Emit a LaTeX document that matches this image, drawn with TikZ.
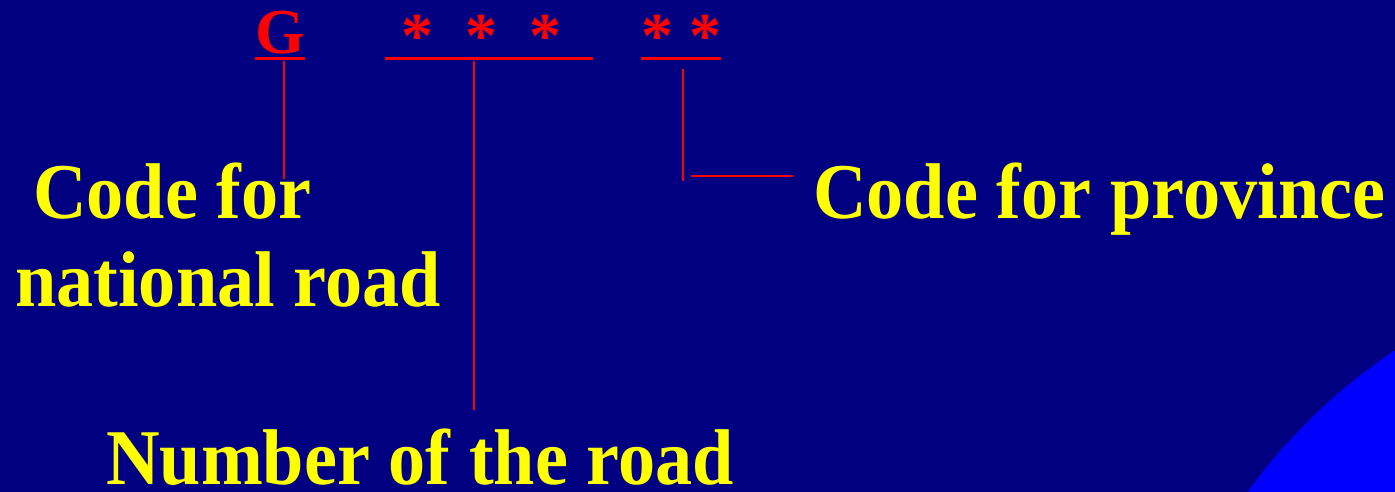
\documentclass[tikz,border=0pt]{standalone}
\usepackage{fontspec}
\usepackage{graphicx}
\setmainfont{Liberation Serif}
\definecolor{bgnavy}{HTML}{000080}
\definecolor{circblue}{HTML}{0000FF}
\definecolor{lblred}{HTML}{FF0000}
\definecolor{lblyellow}{HTML}{FFFF00}
\newcommand\ytxt[1]{\scalebox{0.94}[1]{#1}}
\tikzset{
  redtxt/.style={text=lblred, inner sep=0pt, anchor=base, font=\fontsize{64}{64}\selectfont\bfseries},
  yeltxt/.style={text=lblyellow, inner sep=0pt, anchor=base west, font=\fontsize{79}{79}\selectfont\bfseries},
  uline/.style={draw=lblred, line width=3pt},
  conn/.style={draw=lblred, line width=1.5pt}
}
\begin{document}
\begin{tikzpicture}[x=1pt,y=-1pt]
\fill[bgnavy] (0,0) rectangle (1395,492);
\useasboundingbox (0,0) rectangle (1395,492);
\begin{scope}
\clip (0,0) rectangle (1395,492);
\fill[circblue] (1709,825) circle (569);
\end{scope}
% red code
\node[redtxt] (G) at (280,54) {G};
\node[redtxt] (num) at (481,58) {*\hspace{32pt}*\hspace{32pt}*};
\node[redtxt] (prov) at (681,58) {* *};
% underlines
\coordinate (gl) at (255,59); \coordinate (gr) at (305,59);
\coordinate (nl) at (385,59); \coordinate (nr) at (593,59);
\coordinate (pl) at (641,59); \coordinate (pr) at (721,59);
\draw[uline] (gl) -- (gr);
\draw[uline] (nl) -- (nr);
\draw[uline] (pl) -- (pr);
% labels
\node[yeltxt] (cf) at (33,218) {\ytxt{Code for}};
\node[yeltxt] (nr2) at (15,306) {\ytxt{national road}};
\node[yeltxt] (cp) at (813,218) {\ytxt{Code for province}};
\node[yeltxt] (nor) at (106,484) {\ytxt{Number of the road}};
% connectors
\coordinate (g0) at (284,61); \coordinate (g1) at (284,179);
\draw[conn] (g0) -- (g1);
\coordinate (n0) at (474,61); \coordinate (n1) at (474,410);
\draw[conn] (n0) -- (n1);
\coordinate (p0) at (683,69); \coordinate (p1) at (683,181);
\draw[conn] (p0) -- (p1);
\coordinate (h0) at (691,176); \coordinate (h1) at (793,176);
\draw[conn] (h0) -- (h1);
\end{tikzpicture}
\end{document}
